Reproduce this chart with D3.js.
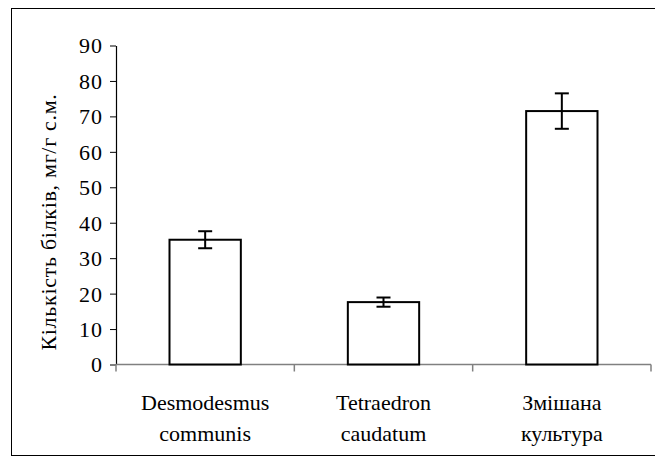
<!DOCTYPE html>
<html>
<head>
<meta charset="utf-8">
<script src="https://cdn.jsdelivr.net/npm/d3@7/dist/d3.min.js"></script>
</head>
<body style="margin:0">
<svg id="chart" width="655" height="464" font-family="Liberation Serif"></svg>
<script>
// Protein content by culture (mg/g dry mass) with standard error
const categories = [["Desmodesmus", "communis"], ["Tetraedron", "caudatum"], ["Змішана", "культура"]];
const values = [35.2, 17.6, 71.5];
const errors = [2.4, 1.3, 5.0];
const yTicks = [0, 10, 20, 30, 40, 50, 60, 70, 80, 90];
const yTitle = "Кількість білків, мг/г с.м.";

const serif = "Liberation Serif";
const fontSize = 22;
const svg = d3.select("#chart");

// outer frame (right edge runs off the canvas)
svg.append("rect")
  .attr("x", 11.5).attr("y", 8.5)
  .attr("width", 660).attr("height", 447)
  .attr("fill", "none").attr("stroke", "#000").attr("stroke-width", 1);

const plotL = 116, plotR = 651, plotT = 45.5, plotB = 364.5;

const x = d3.scaleBand()
  .domain(categories.map((d, i) => i))
  .range([plotL, plotR])
  .paddingInner(0.6).paddingOuter(0.3);

const y = d3.scaleLinear().domain([0, 90]).range([plotB, plotT]);

// y axis
const yAxis = svg.append("g")
  .attr("transform", `translate(${plotL},0)`)
  .call(d3.axisLeft(y).tickValues(yTicks).tickSize(6).tickPadding(7).tickSizeOuter(0));
yAxis.attr("font-family", serif).attr("font-size", fontSize);
yAxis.select(".domain").attr("stroke", "#000").attr("stroke-width", 1.2);
yAxis.selectAll(".tick line").attr("stroke", "#000");
yAxis.selectAll(".tick text")
  .attr("dy", "0.34em")
  .attr("font-family", serif)
  .attr("font-size", fontSize)
  .attr("letter-spacing", 1)
  .attr("fill", "#000");

// x axis with ticks on band boundaries
const boundaries = [plotL].concat(categories.map((d, i) => x(i) + x.bandwidth() + x.step() * x.paddingInner() / 2));
boundaries[boundaries.length - 1] = plotR;
const xg = svg.append("g");
xg.append("line")
  .attr("x1", plotL).attr("x2", plotR)
  .attr("y1", plotB).attr("y2", plotB)
  .attr("stroke", "#808080").attr("stroke-width", 1.5);
xg.selectAll("line.tick").data(boundaries).join("line")
  .attr("class", "tick")
  .attr("x1", d => d).attr("x2", d => d)
  .attr("y1", plotB).attr("y2", plotB + 7)
  .attr("stroke", "#808080").attr("stroke-width", 1.5);

// category labels, one text element per line
const labels = svg.append("g");
categories.forEach((lines, i) => {
  const cx = x(i) + x.bandwidth() / 2;
  lines.forEach((ln, k) => {
    labels.append("text")
      .attr("x", cx).attr("y", 410 + k * 31)
      .attr("text-anchor", "middle")
      .attr("font-family", serif)
      .attr("font-size", fontSize)
      .attr("fill", "#000")
      .text(ln);
  });
});

// bars
svg.append("g").selectAll("rect").data(values).join("rect")
  .attr("x", (d, i) => x(i))
  .attr("y", d => y(d))
  .attr("width", x.bandwidth())
  .attr("height", d => y(0) - y(d))
  .attr("fill", "#fff").attr("stroke", "#000").attr("stroke-width", 2);

// error bars
const eb = svg.append("g").attr("stroke", "#000").attr("stroke-width", 2);
values.forEach((v, i) => {
  const cx = x(i) + x.bandwidth() / 2;
  const hi = y(v + errors[i]), lo = y(v - errors[i]);
  eb.append("line").attr("x1", cx).attr("x2", cx).attr("y1", hi).attr("y2", lo);
  eb.append("line").attr("x1", cx - 7).attr("x2", cx + 7).attr("y1", hi).attr("y2", hi);
  eb.append("line").attr("x1", cx - 7).attr("x2", cx + 7).attr("y1", lo).attr("y2", lo);
});

// y axis title
svg.append("text")
  .attr("transform", `translate(56,${(plotT + plotB) / 2 + 17}) rotate(-90)`)
  .attr("text-anchor", "middle")
  .attr("font-family", serif)
  .attr("font-size", fontSize)
  .attr("letter-spacing", 0.7)
  .attr("fill", "#000")
  .text(yTitle);
</script>
</body>
</html>
